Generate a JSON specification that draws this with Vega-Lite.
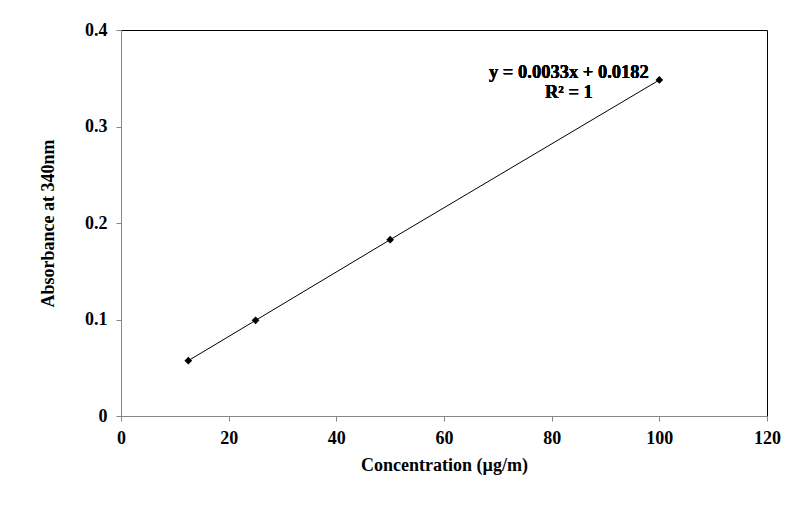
{
  "$schema": "https://vega.github.io/schema/vega-lite/v6.json",
  "autosize": "none",
  "width": 646,
  "height": 386,
  "padding": {"left": 121, "top": 30, "right": 32, "bottom": 90},
  "background": "white",
  "config": {
    "view": {"stroke": "black", "strokeWidth": 1},
    "font": "Liberation Serif"
  },
  "data": {"values": [
    {"conc": 12.5, "abs": 0.0573},
    {"conc": 25, "abs": 0.0991},
    {"conc": 50, "abs": 0.1827},
    {"conc": 100, "abs": 0.3482}
  ]},
  "layer": [
    {
      "mark": {"type": "line", "color": "black", "strokeWidth": 1},
      "encoding": {
        "x": {"field": "conc", "type": "quantitative", "scale": {"domain": [0, 120]},
          "axis": {"title": "Concentration (µg/m)", "values": [0,20,40,60,80,100,120], "grid": false, "labelFlush": false,
            "domainColor": "#868686", "tickColor": "#868686", "tickSize": 5, "labelFont": "Liberation Serif",
            "labelFontSize": 18, "labelFontWeight": "bold", "labelColor": "black", "labelPadding": 8,
            "titleFont": "Liberation Serif", "titleFontSize": 18, "titleFontWeight": "bold", "titleColor": "black", "titlePadding": 9}},
        "y": {"field": "abs", "type": "quantitative", "scale": {"domain": [0, 0.4]},
          "axis": {"title": "Absorbance at 340nm", "values": [0,0.1,0.2,0.3,0.4], "format": "~g", "grid": false, "labelFlush": false,
            "domainColor": "#868686", "tickColor": "#868686", "tickSize": 5, "labelFont": "Liberation Serif",
            "labelFontSize": 18, "labelFontWeight": "bold", "labelColor": "black", "labelPadding": 9,
            "titleFont": "Liberation Serif", "titleFontSize": 18, "titleFontWeight": "bold", "titleColor": "black", "titlePadding": 27}}
      }
    },
    {
      "mark": {"type": "point", "shape": "diamond", "filled": true, "color": "black", "size": 60, "opacity": 1},
      "encoding": {
        "x": {"field": "conc", "type": "quantitative"},
        "y": {"field": "abs", "type": "quantitative"}
      }
    },
    {
      "mark": {"type": "text", "font": "Liberation Serif", "fontSize": 18.5, "fontWeight": "bold", "color": "black", "align": "center", "baseline": "middle"},
      "encoding": {
        "x": {"datum": 83.2},
        "y": {"datum": 0.3565},
        "text": {"value": "y = 0.0033x + 0.0182"}
      }
    },
    {
      "mark": {"type": "text", "font": "Liberation Serif", "fontSize": 18.5, "fontWeight": "bold", "color": "black", "align": "center", "baseline": "middle"},
      "encoding": {
        "x": {"datum": 83.2},
        "y": {"datum": 0.3355},
        "text": {"value": "R² = 1"}
      }
    }
  ]
}
